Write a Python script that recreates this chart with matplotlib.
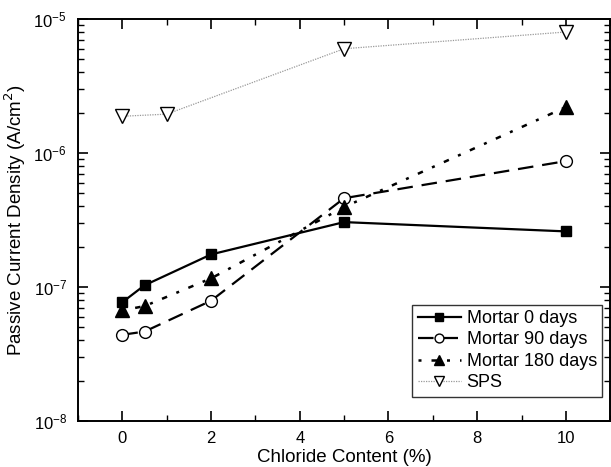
import matplotlib
matplotlib.use("Agg")
import matplotlib.pyplot as plt
from matplotlib.ticker import MultipleLocator, LogLocator, NullFormatter

plt.rcParams['font.family'] = ['Liberation Sans', 'DejaVu Sans']

# chloride content (%) and passive current density (A/cm2)
chloride = [0, 0.5, 2, 5, 10]
mortar_0 = [7.7e-8, 1.03e-7, 1.75e-7, 3.05e-7, 2.6e-7]
mortar_90 = [4.4e-8, 4.65e-8, 7.9e-8, 4.6e-7, 8.7e-7]
mortar_180 = [6.7e-8, 7.2e-8, 1.16e-7, 3.95e-7, 2.2e-6]
sps_chloride = [0, 1, 5, 10]
sps = [1.88e-6, 1.95e-6, 6.0e-6, 8.0e-6]

fig = plt.figure(figsize=(6.11, 4.67), dpi=100)
ax = fig.add_axes([0.1277, 0.0985, 0.871, 0.8608])

ax.plot(chloride, mortar_0, color='black', lw=1.6, ls='-',
        marker='s', ms=7.5, mfc='black', mec='black', label='Mortar 0 days')
ax.plot(chloride, mortar_90, color='black', lw=1.6, ls=(0, (7, 4)),
        marker='o', ms=8.5, mfc='white', mec='black', mew=1.0, label='Mortar 90 days')
ax.plot(chloride, mortar_180, color='black', lw=1.8, ls=(0, (1.2, 4, 2.2, 4)),
        marker='^', ms=9.5, mfc='black', mec='black', label='Mortar 180 days')
ax.plot(sps_chloride, sps, color='#999999', lw=0.9, ls=(0, (1, 1)),
        marker='v', ms=10.5, mfc='white', mec='black', mew=1.0, label='SPS')

ax.set_yscale('log')
ax.set_xlim(-1, 11)
ax.set_ylim(1e-8, 1e-5)

ax.xaxis.set_major_locator(MultipleLocator(2))
ax.xaxis.set_minor_locator(MultipleLocator(1))
ax.yaxis.set_major_locator(LogLocator(base=10, numticks=10))
ax.yaxis.set_minor_locator(LogLocator(base=10, subs=range(2, 10), numticks=20))
ax.yaxis.set_minor_formatter(NullFormatter())

ax.tick_params(which='both', direction='in', top=True, right=True, labelsize=12)
ax.tick_params(axis='x', which='both', pad=7)
ax.tick_params(axis='y', which='both', pad=8)
ax.tick_params(which='major', length=7, width=1.2)
ax.tick_params(which='minor', length=4, width=1.0)
for s in ax.spines.values():
    s.set_linewidth(1.4)

ax.set_xlabel('Chloride Content (%)', fontsize=13.5, labelpad=2)
ax.set_ylabel('Passive Current Density (A/cm$^2$)', fontsize=13.5, labelpad=4)

leg = ax.legend(loc='lower right', bbox_to_anchor=(0.985, 0.06), fontsize=13,
                frameon=True, fancybox=False, edgecolor='black', markerscale=0.75,
                handlelength=2.4, handletextpad=0.3, labelspacing=0.25,
                borderpad=0.3, borderaxespad=0)
leg.get_frame().set_linewidth(1.0)

fig.savefig('out.png', dpi=100)
